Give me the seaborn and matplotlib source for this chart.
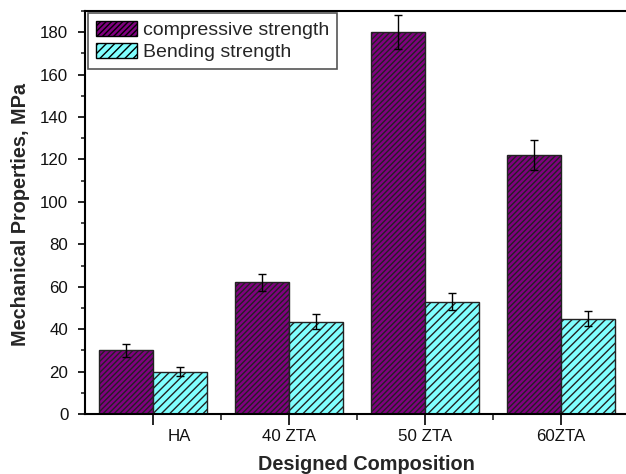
import matplotlib
matplotlib.use("Agg")
import matplotlib.pyplot as plt
import matplotlib.transforms as mtransforms
from matplotlib.patches import Patch
from matplotlib.ticker import MultipleLocator, FixedLocator
import numpy as np
import pandas as pd
import seaborn as sns

# Data
compositions = ["HA", "40 ZTA", "50 ZTA", "60ZTA"]
compressive = [30, 62, 180, 122]
compressive_err = [3, 4, 8, 7]
bending = [20, 43.5, 53, 45]
bending_err = [2, 3.5, 4, 3.5]
series_names = ["compressive strength", "Bending strength"]

colors = {"compressive strength": "#800080", "Bending strength": "#80ffff"}
hatches = {"compressive strength": "//////", "Bending strength": "////"}

df = pd.DataFrame({
    "composition": compositions * 2,
    "value": compressive + bending,
    "err": compressive_err + bending_err,
    "series": [series_names[0]] * 4 + [series_names[1]] * 4,
})

sns.set_style("ticks")
plt.rcParams["font.family"] = ["Liberation Sans", "DejaVu Sans"]
plt.rcParams["hatch.linewidth"] = 1.0
plt.rcParams["hatch.color"] = "black"

fig = plt.figure(figsize=(6.26, 4.74), dpi=100)
ax = fig.add_axes([85 / 626, 60 / 474, 544 / 626, 403 / 474])

sns.barplot(data=df, x="composition", y="value", hue="series",
            order=compositions, hue_order=series_names,
            palette=colors, saturation=1, errorbar=None, width=0.8, gap=0,
            edgecolor="black", linewidth=1.0, legend=False, ax=ax)

# hatch and error bars, per series (seaborn orders patches by hue level)
bars = [p for p in ax.patches if p.get_height() > 0]
n = len(compositions)
for k, name in enumerate(series_names):
    sub = df[df["series"] == name]
    group = bars[k * n:(k + 1) * n]
    xs = [p.get_x() + p.get_width() / 2 for p in group]
    for p in group:
        p.set_hatch(hatches[name])
        p.set_edgecolor("#222222")
    ax.errorbar(xs, sub["value"].to_numpy(), yerr=sub["err"].to_numpy(),
                fmt="none", ecolor="black", elinewidth=1.0,
                capsize=3, capthick=1.0, zorder=5)

ax.set_xlim(-0.5, 3.5)
ax.set_ylim(0, 190)

ax.yaxis.set_major_locator(MultipleLocator(20))
ax.yaxis.set_minor_locator(MultipleLocator(10))
ax.xaxis.set_major_locator(FixedLocator(range(n)))
ax.xaxis.set_minor_locator(FixedLocator([i + 0.5 for i in range(n - 1)]))
ax.set_xticklabels(compositions)

ax.tick_params(axis="both", which="major", labelsize=12.2, width=1.2,
               color="black", labelcolor="#111111")
ax.tick_params(axis="y", which="major", length=5, pad=7)
ax.tick_params(axis="y", which="minor", length=3, width=1.2)
ax.tick_params(axis="x", which="major", length=8, pad=3)
ax.tick_params(axis="x", which="minor", length=4, width=1.2)

# shift the first category label to sit under its bending bar
lbl = ax.get_xticklabels()[0]
lbl.set_transform(lbl.get_transform() +
                  mtransforms.ScaledTranslation(0.26, 0, fig.dpi_scale_trans))

for side in ["left", "bottom", "top"]:
    ax.spines[side].set_visible(True)
    ax.spines[side].set_color("black")
    ax.spines[side].set_linewidth(1.5)
ax.spines["right"].set_visible(False)

ax.set_xlabel("")
ax.set_ylabel("")
fig.text(366 / 626, 0.021, "Designed Composition", ha="center", va="center",
         fontsize=14.3, fontweight="bold")
fig.text(0.032, 1 - 215 / 474, "Mechanical Properties, MPa", ha="center",
         va="center", rotation=90, fontsize=14.3, fontweight="bold")

handles = [Patch(facecolor=colors[s], edgecolor="black", hatch=hatches[s],
                 linewidth=1.0, label=s) for s in series_names]
leg = ax.legend(handles=handles, loc="upper left",
                bbox_to_anchor=(3 / 544, 1 - 2 / 403), fontsize=14,
                frameon=True, fancybox=False, edgecolor="#555555",
                framealpha=1, borderpad=0.4, labelspacing=0.2,
                handlelength=2.1, handleheight=0.8, handletextpad=0.35,
                borderaxespad=0)
leg.get_frame().set_linewidth(1.2)

fig.savefig("out.png", dpi=100)
